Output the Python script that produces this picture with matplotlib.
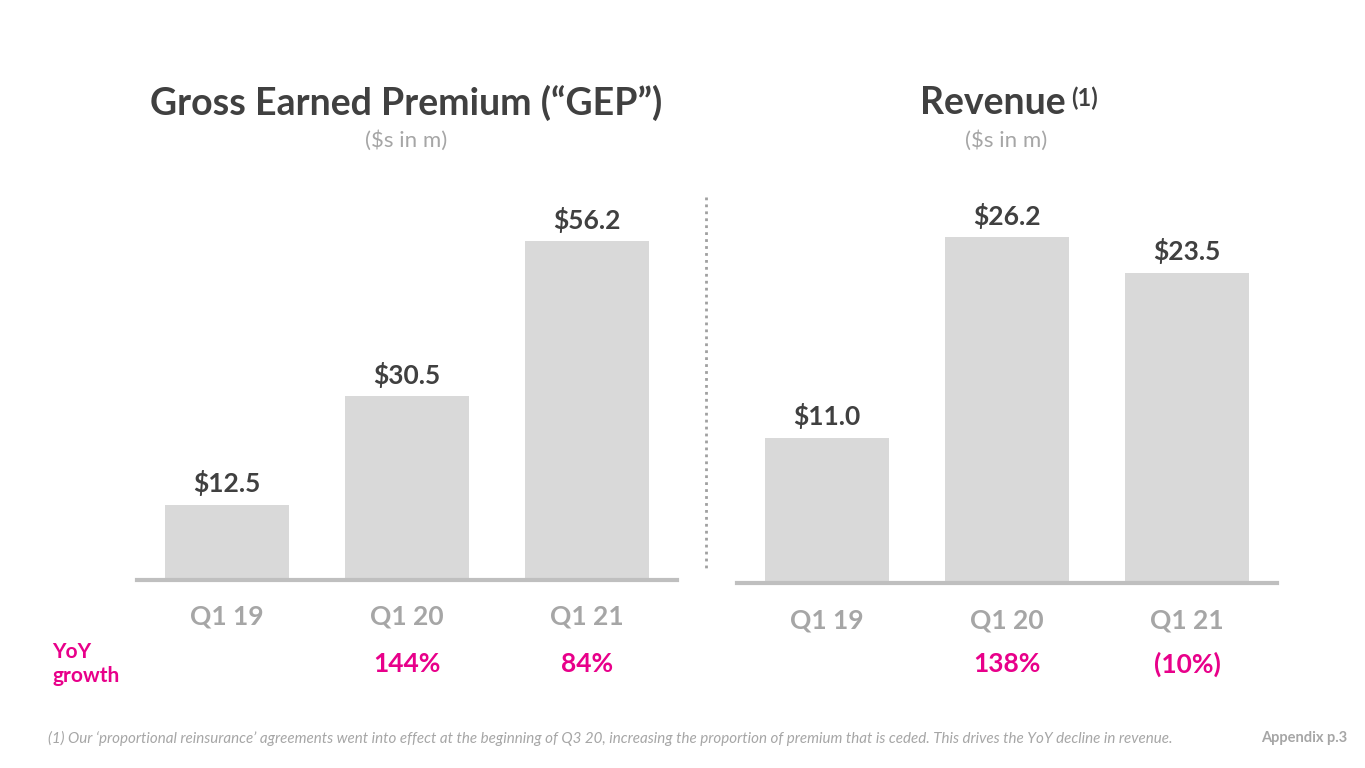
import matplotlib
matplotlib.use("Agg")
import matplotlib.pyplot as plt
from matplotlib.transforms import blended_transform_factory

categories = ["Q1 19", "Q1 20", "Q1 21"]
gep_values = [12.5, 30.5, 56.2]
rev_values = [11.0, 26.2, 23.5]
gep_growth = ["", "144%", "84%"]
rev_growth = ["", "138%", "(10%)"]

W, H = 1365, 768
BAR = "#d9d9d9"
AXIS = "#bfbfbf"
DARK = "#404040"
TICK = "#a6a6a6"
PINK = "#e8008a"
plt.rcParams["font.family"] = ["Lato", "DejaVu Sans"]

fig = plt.figure(figsize=(W / 100, H / 100), dpi=100)


def px_axes(x0, x1, ybase, height):
    return fig.add_axes([x0 / W, 1 - ybase / H, (x1 - x0) / W, height / H])


def draw_panel(ax, values, growth, ymax):
    x = range(len(values))
    ax.bar(x, values, width=0.69, color=BAR, zorder=2)
    ax.set_xlim(-0.5, 2.5)
    ax.set_ylim(0, ymax)
    for s in ["top", "right", "left"]:
        ax.spines[s].set_visible(False)
    ax.spines["bottom"].set_color(AXIS)
    ax.spines["bottom"].set_linewidth(3)
    ax.set_yticks([])
    ax.set_xticks(list(x))
    ax.set_xticklabels(categories, fontsize=19, fontweight="bold", color=TICK)
    ax.tick_params(axis="x", length=0, pad=18)
    for i, v in enumerate(values):
        ax.annotate(f"${v:.1f}", (i, v), xytext=(0, 6), textcoords="offset points",
                    ha="center", va="bottom", fontsize=19, fontweight="bold", color=DARK)
    trans = blended_transform_factory(ax.transData, fig.transFigure)
    for i, g in enumerate(growth):
        if g:
            ax.text(i, 1 - 664 / H, g, transform=trans, ha="center", va="center",
                    fontsize=19, fontweight="bold", color=PINK, clip_on=False)


ax1 = px_axes(137, 677, 580, 362)
draw_panel(ax1, gep_values, gep_growth, 60)
ax2 = px_axes(737, 1277, 583, 396)
draw_panel(ax2, rev_values, rev_growth, 30)

fig.text(406 / W, 1 - 103 / H, "Gross Earned Premium (\u201cGEP\u201d)", ha="center", va="center",
         fontsize=27, fontweight="bold", color=DARK)
fig.text(406 / W, 1 - 141 / H, "($s in m)", ha="center", va="center", fontsize=16, color=TICK)
fig.text(1066 / W, 1 - 103 / H, "Revenue", ha="right", va="center",
         fontsize=27, fontweight="bold", color=DARK)
fig.text(1071 / W, 1 - 98 / H, "(1)", ha="left", va="center",
         fontsize=17, fontweight="bold", color=DARK)
fig.text(1006 / W, 1 - 141 / H, "($s in m)", ha="center", va="center", fontsize=16, color=TICK)

fig.add_artist(plt.Line2D([706 / W, 706 / W], [1 - 197 / H, 1 - 570 / H],
                          color="#a0a0a0", linestyle=(0, (1, 1.5)), linewidth=2))

fig.text(52 / W, 1 - 664 / H, "YoY\ngrowth", ha="left", va="center", fontsize=15,
         fontweight="bold", color=PINK, linespacing=1.2)

fig.text(48 / W, 1 - 738 / H,
         "(1) Our \u2018proportional reinsurance\u2019 agreements went into effect at the beginning of Q3 20, "
         "increasing the proportion of premium that is ceded. This drives the YoY decline in revenue.",
         ha="left", va="center", fontsize=10.9, style="italic", color=TICK)
fig.text(1347 / W, 1 - 738 / H, "Appendix p.3", ha="right", va="center", fontsize=10.5,
         fontweight="bold", color=TICK)

fig.savefig("out.png", dpi=100)
